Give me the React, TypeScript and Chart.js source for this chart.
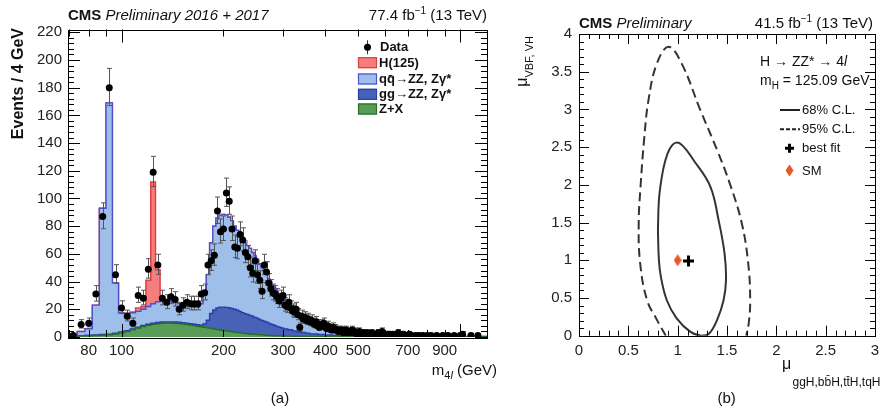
import React, { useEffect, useRef } from "react";
import { Chart, registerables } from "chart.js";

Chart.register(...registerables);

const FONT = '"Liberation Sans", Arial, Helvetica, sans-serif';
const fnt = (size: number, style = "") => `${style} ${size}px ${FONT}`.trim();

// ================= Panel (a): m4l distribution =================
const binEdges = [
  70, 74, 78, 82, 86, 90, 94, 98, 102, 106, 110, 114, 118, 122, 126, 130, 134, 138, 142, 146,
  150, 154, 158, 162, 166, 170, 174, 178, 182, 186, 190, 194, 198, 202, 206, 210, 214, 218, 222, 226,
  230, 234, 238, 242, 246, 250, 254, 258, 262, 266, 270, 274, 278, 282, 286, 290, 294, 298, 302,
  310, 320, 330, 340, 350, 360, 380, 400, 420, 440, 470, 500, 550, 600, 700, 800, 900, 1000, 1200,
];
const zPlusX = [
  0.5, 0.7, 0.9, 1.1, 1.3, 1.6, 2.2, 3.0, 4.0, 5.2,
  6.4, 7.5, 8.4, 9.1, 9.6, 9.9, 10.0, 10.0, 9.9, 9.7,
  9.4, 9.0, 8.6, 8.2, 7.8, 7.4, 7.0, 6.6, 6.2, 5.8,
  5.4, 5.0, 4.7, 4.4, 4.1, 3.8, 3.5, 3.3, 3.0, 2.8,
  2.6, 2.4, 2.2, 2.0, 1.9, 1.7, 1.6, 1.5, 1.4, 1.3,
  1.2, 1.1, 1.0, 0.95, 0.9, 0.85, 0.8, 0.75,
  0.7, 0.6, 0.55, 0.5, 0.45, 0.4, 0.35, 0.3, 0.25, 0.2, 0.18, 0.15, 0.12, 0.1, 0.08, 0.05, 0.04, 0.03, 0.02,
];
const ggZZ = [
  0.3, 0.3, 0.4, 0.4, 0.5, 0.5, 0.5, 0.6, 0.6, 0.7,
  0.7, 0.8, 0.8, 0.8, 0.9, 0.9, 0.9, 0.9, 0.9, 0.9,
  0.9, 1.0, 1.0, 1.0, 1.0, 1.2, 2.5, 5.5, 10.8, 13.7,
  15.6, 16.6, 16.9, 17.0, 17.0, 16.8, 16.5, 16.0, 15.4, 14.8,
  14.3, 13.8, 13.4, 13.0, 12.3, 11.8, 11.0, 10.5, 10.0, 9.5,
  9.0, 8.3, 7.8, 7.3, 6.8, 6.4, 6.0, 5.6,
  5.2, 4.6, 3.9, 3.3, 2.8, 2.4, 1.9, 1.5, 1.2, 1.0, 0.8, 0.6, 0.45, 0.32, 0.22, 0.14, 0.09, 0.06, 0.03,
];
const qqZZ = [
  1.2, 3.0, 4.7, 21.5, 91.2, 166.9, 36.3, 13.7, 12.4, 11.6,
  11.4, 11.7, 12.8, 14.1, 15.0, 15.7, 15.6, 15.1, 14.2, 13.4,
  12.7, 12.5, 12.4, 12.3, 12.7, 15.4, 22.5, 32.9, 51.0, 60.5,
  65.0, 66.4, 66.9, 66.6, 65.4, 63.4, 60.0, 57.7, 55.6, 53.4,
  51.1, 49.8, 48.4, 46.0, 44.3, 42.5, 40.4, 38.0, 36.1, 34.2,
  31.8, 30.1, 28.2, 26.75, 25.3, 23.75, 22.2, 20.65,
  19.1, 16.8, 14.55, 12.7, 11.25, 9.7, 8.25, 6.7, 5.75, 4.8, 4.02, 3.25, 2.43, 1.88, 1.3, 0.91, 0.67, 0.51, 0.35,
];
const higgsBinLow = [102, 106, 110, 114, 118, 122, 126, 130, 134];
const higgsValue = [0.2, 0.5, 2.5, 2.0, 19, 88, 23, 1.0, 0.3];

const dataMass = [
  72, 76, 80, 84, 88, 92, 96, 100, 104, 108,
  112, 116, 120, 124, 128, 132, 136, 140, 144, 148,
  152, 156, 160, 164, 168, 172, 176, 180, 184, 188,
  192, 196, 200, 204, 208, 212, 216, 220, 224, 228,
  232, 236, 240, 244, 248, 252, 256, 260, 264, 268,
  272, 276, 280, 284, 288, 292, 296, 300, 304, 308,
  312, 316, 320, 324, 328, 332, 336, 340, 344, 348,
  352, 356, 360, 364, 368, 372, 376, 380, 384, 388,
  392, 396, 400, 404, 408, 412, 416, 420, 424, 428,
  432, 436, 440, 444, 448, 452, 456, 460, 464, 468,
  472, 476, 480, 484, 488, 492, 496, 500, 504, 508,
  512, 516, 520, 524, 528, 532,
  540, 548, 556, 564, 572, 580, 588, 596, 604, 612, 620,
  632, 644, 656, 668, 680,
  696, 708, 720,
  740, 756, 776, 800, 820, 852, 888, 920, 960, 1000, 1016, 1076, 1128,
];
const dataCount = [
  1, 9, 10, 31, 87, 180, 45, 21, 15, 10,
  30, 28, 49, 119, 52, 28, 25, 29, 27, 20,
  23, 25, 24, 24, 24, 31, 32, 52, 55, 59,
  91, 76, 78, 104, 98, 78, 65, 64, 74, 70,
  61, 58, 50, 46, 55, 45, 41, 33, 52, 47,
  39, 35, 32, 31, 29, 26, 28, 30, 23, 22,
  25, 21, 19, 18, 20, 16, 7, 15, 13, 14,
  12, 13, 11, 12, 10, 9, 11, 8, 7, 9,
  8, 10, 7, 6, 8, 6, 5, 7, 5, 6,
  5, 4, 5, 4, 5, 3, 4, 5, 3, 4,
  3, 4, 5, 3, 4, 3, 2, 3, 4, 2,
  3, 2, 3, 2, 2, 3,
  2, 3, 2, 2, 3, 2, 4, 2, 1, 2, 2,
  2, 1, 3, 1, 2,
  1, 2, 1,
  1, 1, 1, 1, 1, 1, 1, 1, 1, 1, 2, 1, 1,
];
const massTickLabels = [80, 100, 200, 300, 400, 500, 700, 900];
const massSmallTicks = [70, 80, 90, 200, 300, 400, 500, 600, 700, 800, 900];
const massLongTicks = [100, 1000];
const eventTickLabels = [0, 20, 40, 60, 80, 100, 120, 140, 160, 180, 200, 220];
const legendA = ["Data", "H(125)", "qq\u0304\u2192ZZ, Z\u03b3*", "gg\u2192ZZ, Z\u03b3*", "Z+X"];

// ================= Panel (b): signal strength contours =================
const cl68X = [0.80, 0.81, 0.83, 0.89, 0.99, 1.13, 1.24, 1.32, 1.40, 1.465, 1.49, 1.475, 1.415, 1.33, 1.16, 1.05, 0.985, 0.92, 0.87, 0.835, 0.81, 0.80];
const cl68Y = [1.40, 1.00, 0.78, 0.47, 0.23, 0.05, 0.0, 0.03, 0.21, 0.47, 0.74, 1.09, 1.53, 1.98, 2.33, 2.52, 2.56, 2.48, 2.30, 2.07, 1.80, 1.40];
const cl95X = [0.88, 0.79, 0.69, 0.62, 0.605, 0.625, 0.66, 0.705, 0.79, 0.907, 1.04, 1.23, 1.40, 1.533, 1.65, 1.715, 1.735, 1.72, 1.695];
const cl95Y = [0.0, 0.21, 0.47, 0.96, 1.49, 2.0, 2.6, 3.13, 3.61, 3.83, 3.61, 2.99, 2.46, 2.0, 1.49, 0.96, 0.47, 0.16, 0.0];
const bestFit = [1.11, 0.99];
const smPoint = [1.0, 1.0];
const muTickLabels = [0, 0.5, 1, 1.5, 2, 2.5, 3];
const muVbfTickLabels = [0, 0.5, 1, 1.5, 2, 2.5, 3, 3.5, 4];
const legendB = ["68% C.L.", "95% C.L.", "best fit", "SM"];

// colours
const C_GREEN = "rgb(88,156,88)";
const C_GREEN_L = "rgb(40,110,40)";
const C_DBLUE = "rgb(72,98,184)";
const C_DBLUE_L = "rgb(40,60,170)";
const C_LBLUE = "rgb(158,191,233)";
const C_LBLUE_L = "rgb(80,80,205)";
const C_RED = "rgb(245,125,125)";
const C_RED_L = "rgb(225,60,60)";
const C_SM = "rgb(235,85,40)";

type Seg = { t: string; f: string; dy?: number };
function drawRich(ctx: CanvasRenderingContext2D, segs: Seg[], x: number, y: number, align: "left" | "right" | "center") {
  const widths = segs.map((s) => {
    ctx.font = s.f;
    return ctx.measureText(s.t).width;
  });
  const total = widths.reduce((a, b) => a + b, 0);
  let cx = align === "left" ? x : align === "right" ? x - total : x - total / 2;
  ctx.textAlign = "left";
  segs.forEach((s, i) => {
    ctx.font = s.f;
    ctx.fillText(s.t, cx, y + (s.dy || 0));
    cx += widths[i];
  });
}

function stepPoints(vals: number[]) {
  const pts = vals.map((v, i) => ({ x: binEdges[i], y: v }));
  pts.push({ x: binEdges[binEdges.length - 1], y: vals[vals.length - 1] });
  return pts;
}

function range(a: number, b: number, step: number) {
  const out: number[] = [];
  for (let v = a; v <= b + 1e-9; v += step) out.push(Math.round(v * 1000) / 1000);
  return out;
}

const leftDecor = {
  id: "leftDecor",
  beforeDatasetDraw(chart: any, args: any) {
    if (args.index !== 0) return;
    const ctx = chart.ctx as CanvasRenderingContext2D;
    const xs = chart.scales.x;
    const ys = chart.scales.y;
    ctx.save();
    ctx.strokeStyle = "#555";
    ctx.lineWidth = 1;
    ctx.beginPath();
    dataMass.forEach((m, i) => {
      const n = dataCount[i];
      const s = Math.sqrt(n + 0.25);
      const x = Math.round(xs.getPixelForValue(m)) + 0.5;
      const y1 = ys.getPixelForValue(n + s + 0.5);
      const y2 = ys.getPixelForValue(Math.max(n - s + 0.5, 0));
      ctx.moveTo(x, y1);
      ctx.lineTo(x, y2);
      ctx.moveTo(x - 2.5, y1);
      ctx.lineTo(x + 2.5, y1);
      ctx.moveTo(x - 2.5, y2);
      ctx.lineTo(x + 2.5, y2);
    });
    ctx.stroke();
    ctx.restore();
  },
  afterDraw(chart: any) {
    const ctx = chart.ctx as CanvasRenderingContext2D;
    const { left, right, top, bottom } = chart.chartArea;
    const xs = chart.scales.x;
    const ys = chart.scales.y;
    ctx.save();
    ctx.strokeStyle = "#000";
    ctx.lineWidth = 1;
    ctx.beginPath();
    // y ticks (inward, both sides)
    range(0, 220, 4).forEach((v) => {
      const y = Math.round(ys.getPixelForValue(v)) + 0.5;
      const len = v % 20 === 0 ? 12 : 6;
      ctx.moveTo(left, y);
      ctx.lineTo(left + len, y);
      ctx.moveTo(right, y);
      ctx.lineTo(right - len, y);
    });
    const xt = (v: number, len: number) => {
      const x = Math.round(xs.getPixelForValue(v)) + 0.5;
      ctx.moveTo(x, bottom);
      ctx.lineTo(x, bottom - len);
      ctx.moveTo(x, top);
      ctx.lineTo(x, top + len);
    };
    massSmallTicks.forEach((v) => xt(v, 7));
    massLongTicks.forEach((v) => xt(v, 13));
    ctx.stroke();
    ctx.strokeRect(Math.round(left) + 0.5, Math.round(top) + 0.5, Math.round(right - left), Math.round(bottom - top));

    // texts
    ctx.fillStyle = "#111";
    ctx.textBaseline = "alphabetic";
    drawRich(ctx, [
      { t: "CMS", f: fnt(15, "bold") },
      { t: " Preliminary 2016 + 2017", f: fnt(15, "italic") },
    ], left, 19.5, "left");
    drawRich(ctx, [
      { t: "77.4 fb", f: fnt(15) },
      { t: "\u22121", f: fnt(10), dy: -6 },
      { t: " (13 TeV)", f: fnt(15) },
    ], right, 19.5, "right");
    drawRich(ctx, [
      { t: "m", f: fnt(15) },
      { t: "4", f: fnt(11), dy: 4 },
      { t: "l", f: fnt(11, "italic"), dy: 4 },
      { t: " (GeV)", f: fnt(15) },
    ], 497, 375, "right");
    drawRich(ctx, [{ t: "(a)", f: fnt(15) }], 280, 403, "center");
    // y title
    ctx.save();
    ctx.translate(19, 28);
    ctx.rotate(-Math.PI / 2);
    ctx.textBaseline = "middle";
    ctx.textAlign = "right";
    ctx.font = fnt(16, "bold");
    ctx.fillText("Events / 4 GeV", 0, 0);
    ctx.restore();

    // legend
    const ly = [47.3, 62.7, 79, 94.3, 109];
    const fills = [C_RED, C_LBLUE, C_DBLUE, C_GREEN];
    const lines = [C_RED_L, C_LBLUE_L, C_DBLUE_L, C_GREEN_L];
    // data marker
    ctx.strokeStyle = "#333";
    ctx.beginPath();
    ctx.moveTo(367.5, ly[0] - 7);
    ctx.lineTo(367.5, ly[0] + 7);
    ctx.stroke();
    ctx.fillStyle = "#000";
    ctx.beginPath();
    ctx.arc(367.5, ly[0], 3.5, 0, Math.PI * 2);
    ctx.fill();
    for (let i = 0; i < 4; i++) {
      ctx.fillStyle = fills[i];
      ctx.fillRect(358, ly[i + 1] - 5.5, 19, 11);
      ctx.strokeStyle = lines[i];
      ctx.lineWidth = 1.2;
      ctx.strokeRect(358.5, ly[i + 1] - 5, 18, 10);
    }
    ctx.fillStyle = "#111";
    ctx.textBaseline = "middle";
    legendA.forEach((t, i) => {
      drawRich(ctx, [{ t, f: fnt(13, "bold") }], i === 0 ? 380 : 379, ly[i] + 0.5, "left");
    });
    ctx.restore();
  },
};

const rightDecor = {
  id: "rightDecor",
  afterDraw(chart: any) {
    const ctx = chart.ctx as CanvasRenderingContext2D;
    const { left, right, top, bottom } = chart.chartArea;
    const xs = chart.scales.x;
    const ys = chart.scales.y;
    ctx.save();
    ctx.strokeStyle = "#000";
    ctx.lineWidth = 1;
    ctx.beginPath();
    range(0, 3, 0.1).forEach((v) => {
      const x = Math.round(xs.getPixelForValue(v)) + 0.5;
      const len = Math.abs(v * 2 - Math.round(v * 2)) < 1e-6 ? 10 : 5;
      ctx.moveTo(x, bottom);
      ctx.lineTo(x, bottom - len);
      ctx.moveTo(x, top);
      ctx.lineTo(x, top + len);
    });
    range(0, 4, 0.1).forEach((v) => {
      const y = Math.round(ys.getPixelForValue(v)) + 0.5;
      const len = Math.abs(v * 2 - Math.round(v * 2)) < 1e-6 ? 10 : 5;
      ctx.moveTo(left, y);
      ctx.lineTo(left + len, y);
      ctx.moveTo(right, y);
      ctx.lineTo(right - len, y);
    });
    ctx.stroke();
    ctx.strokeRect(Math.round(left) + 0.5, Math.round(top) + 0.5, Math.round(right - left), Math.round(bottom - top));

    ctx.fillStyle = "#111";
    ctx.textBaseline = "alphabetic";
    drawRich(ctx, [
      { t: "CMS", f: fnt(15, "bold") },
      { t: " Preliminary", f: fnt(15, "italic") },
    ], left, 28, "left");
    drawRich(ctx, [
      { t: "41.5 fb", f: fnt(15) },
      { t: "\u22121", f: fnt(10), dy: -6 },
      { t: " (13 TeV)", f: fnt(15) },
    ], 363, 28, "right");
    // x title
    drawRich(ctx, [{ t: "\u03bc", f: fnt(16) }], 272, 369, "left");
    drawRich(ctx, [{ t: "ggH,bb\u0304H,tt\u0304H,tqH", f: fnt(12) }], 282.5, 386, "left");
    drawRich(ctx, [{ t: "(b)", f: fnt(15) }], 216.7, 403, "center");
    // y title
    ctx.save();
    ctx.translate(527, 36);
    ctx.translate(-510, 0);
    ctx.rotate(-Math.PI / 2);
    drawRich(ctx, [
      { t: "\u03bc", f: fnt(16) },
      { t: "VBF, VH", f: fnt(11), dy: 6 },
    ], 0, 0, "right");
    ctx.restore();

    // legend
    drawRich(ctx, [
      { t: "H \u2192 ZZ* \u2192 4", f: fnt(14) },
      { t: "l", f: fnt(14, "italic") },
    ], 250, 66, "left");
    drawRich(ctx, [
      { t: "m", f: fnt(14) },
      { t: "H", f: fnt(10), dy: 4 },
      { t: " = 125.09 GeV", f: fnt(14) },
    ], 250, 85, "left");
    const ly = [110, 129.3, 148.3, 170.5];
    ctx.strokeStyle = "#222";
    ctx.lineWidth = 2;
    ctx.beginPath();
    ctx.moveTo(270, ly[0]);
    ctx.lineTo(290, ly[0]);
    ctx.stroke();
    ctx.setLineDash([4, 2]);
    ctx.beginPath();
    ctx.moveTo(270, ly[1]);
    ctx.lineTo(290, ly[1]);
    ctx.stroke();
    ctx.setLineDash([]);
    ctx.strokeStyle = "#000";
    ctx.lineWidth = 3;
    ctx.beginPath();
    ctx.moveTo(275, ly[2]);
    ctx.lineTo(284, ly[2]);
    ctx.moveTo(279.5, ly[2] - 4.5);
    ctx.lineTo(279.5, ly[2] + 4.5);
    ctx.stroke();
    ctx.fillStyle = C_SM;
    ctx.beginPath();
    ctx.moveTo(279.5, ly[3] - 6);
    ctx.lineTo(283.5, ly[3]);
    ctx.lineTo(279.5, ly[3] + 6);
    ctx.lineTo(275.5, ly[3]);
    ctx.closePath();
    ctx.fill();
    ctx.fillStyle = "#111";
    ctx.textBaseline = "middle";
    legendB.forEach((t, i) => drawRich(ctx, [{ t, f: fnt(13) }], 292, ly[i] + 0.5, "left"));
    ctx.restore();
  },
};

export default function App() {
  const leftRef = useRef<HTMLCanvasElement | null>(null);
  const rightRef = useRef<HTMLCanvasElement | null>(null);

  useEffect(() => {
    document.body.style.margin = "0";
    Chart.defaults.font.family = FONT;

    const higgs = binEdges.slice(0, -1).map((lo) => {
      const k = higgsBinLow.indexOf(lo);
      return k >= 0 ? higgsValue[k] : 0;
    });
    const s1 = zPlusX.slice();
    const s2 = s1.map((v, i) => v + ggZZ[i]);
    const s3 = s2.map((v, i) => v + qqZZ[i]);
    const s4 = s3.map((v, i) => v + higgs[i]);

    const histDs = (label: string, vals: number[], bg: string, line: string, order: number) => ({
      label,
      data: stepPoints(vals),
      stepped: true,
      fill: "origin",
      backgroundColor: bg,
      borderColor: line,
      borderWidth: 1.4,
      pointRadius: 0,
      order,
    });

    const tickFont = { family: FONT, size: 15 };

    const left = new Chart(leftRef.current as HTMLCanvasElement, {
      type: "line",
      data: {
        datasets: [
          {
            label: legendA[0],
            data: dataMass.map((m, i) => ({ x: m, y: dataCount[i] })),
            showLine: false,
            pointRadius: 3.5,
            pointBackgroundColor: "#000",
            pointBorderWidth: 0,
            borderColor: "#000",
            order: 0,
          } as any,
          histDs(legendA[4], s1, C_GREEN, C_GREEN_L, 1),
          histDs(legendA[3], s2, C_DBLUE, C_DBLUE_L, 2),
          histDs(legendA[2], s3, C_LBLUE, C_LBLUE_L, 3),
          histDs(legendA[1], s4, C_RED, C_RED_L, 4),
        ],
      },
      options: {
        animation: false,
        responsive: false,
        devicePixelRatio: 1,
        events: [],
        layout: { padding: { left: 0, right: 23, top: 29.5, bottom: 0 }, autoPadding: false },
        plugins: { legend: { display: false }, tooltip: { enabled: false } },
        scales: {
          x: {
            type: "logarithmic",
            min: 69.5,
            max: 1200,
            bounds: "data",
            grid: { display: false, drawTicks: false },
            border: { display: false },
            afterBuildTicks: (s: any) => {
              s.ticks = massTickLabels.map((v) => ({ value: v }));
            },
            afterFit: (s: any) => {
              s.height = 73;
            },
            ticks: {
              autoSkip: false,
              maxRotation: 0,
              padding: 5,
              color: "#222",
              font: tickFont,
              callback: (v: any) => String(v),
            },
          },
          y: {
            type: "linear",
            min: 0,
            max: 222,
            bounds: "data",
            grid: { display: false, drawTicks: false },
            border: { display: false },
            afterBuildTicks: (s: any) => {
              s.ticks = eventTickLabels.map((v) => ({ value: v }));
            },
            afterFit: (s: any) => {
              s.width = 68;
            },
            ticks: {
              autoSkip: false,
              padding: 6,
              color: "#222",
              font: tickFont,
              callback: (v: any) => String(v),
            },
          },
        },
      } as any,
      plugins: [leftDecor as any],
    });

    const diamond = document.createElement("canvas");
    diamond.width = 8;
    diamond.height = 12;
    const dctx = diamond.getContext("2d") as CanvasRenderingContext2D;
    dctx.fillStyle = C_SM;
    dctx.beginPath();
    dctx.moveTo(4, 0);
    dctx.lineTo(8, 6);
    dctx.lineTo(4, 12);
    dctx.lineTo(0, 6);
    dctx.closePath();
    dctx.fill();

    const right = new Chart(rightRef.current as HTMLCanvasElement, {
      type: "scatter",
      data: {
        datasets: [
          {
            label: legendB[1],
            data: cl95X.map((x, i) => ({ x, y: cl95Y[i] })),
            showLine: true,
            borderColor: "#333",
            borderWidth: 2,
            borderDash: [9, 5],
            pointRadius: 0,
            tension: 0.4,
            fill: false,
          },
          {
            label: legendB[0],
            data: cl68X.map((x, i) => ({ x, y: cl68Y[i] })),
            showLine: true,
            borderColor: "#333",
            borderWidth: 2,
            pointRadius: 0,
            tension: 0.4,
            fill: false,
          },
          {
            label: legendB[3],
            data: [{ x: smPoint[0], y: smPoint[1] }],
            pointStyle: diamond,
            pointRadius: 6,
          },
          {
            label: legendB[2],
            data: [{ x: bestFit[0], y: bestFit[1] }],
            pointStyle: "cross",
            pointRadius: 5.5,
            pointBorderWidth: 3,
            borderColor: "#000",
            pointBorderColor: "#000",
          },
        ],
      },
      options: {
        animation: false,
        responsive: false,
        devicePixelRatio: 1,
        events: [],
        layout: { padding: { left: 0, right: 11, top: 34, bottom: 0 }, autoPadding: false },
        plugins: { legend: { display: false }, tooltip: { enabled: false } },
        scales: {
          x: {
            type: "linear",
            min: 0,
            max: 3,
            bounds: "data",
            grid: { display: false, drawTicks: false },
            border: { display: false },
            afterBuildTicks: (s: any) => {
              s.ticks = muTickLabels.map((v) => ({ value: v }));
            },
            afterFit: (s: any) => {
              s.height = 74.3;
            },
            ticks: { autoSkip: false, maxRotation: 0, padding: 6, color: "#222", font: tickFont, callback: (v: any) => String(v) },
          },
          y: {
            type: "linear",
            min: 0,
            max: 4,
            bounds: "data",
            grid: { display: false, drawTicks: false },
            border: { display: false },
            afterBuildTicks: (s: any) => {
              s.ticks = muVbfTickLabels.map((v) => ({ value: v }));
            },
            afterFit: (s: any) => {
              s.width = 69;
            },
            ticks: { autoSkip: false, padding: 7, color: "#222", font: tickFont, callback: (v: any) => String(v) },
          },
        },
      } as any,
      plugins: [rightDecor as any],
    });

    return () => {
      left.destroy();
      right.destroy();
    };
  }, []);

  return (
    <div style={{ position: "relative", width: 886, height: 410, background: "#fff" }}>
      <canvas ref={leftRef} width={510} height={410} style={{ position: "absolute", left: 0, top: 0, width: 510, height: 410 }} />
      <canvas ref={rightRef} width={376} height={410} style={{ position: "absolute", left: 510, top: 0, width: 376, height: 410 }} />
    </div>
  );
}
